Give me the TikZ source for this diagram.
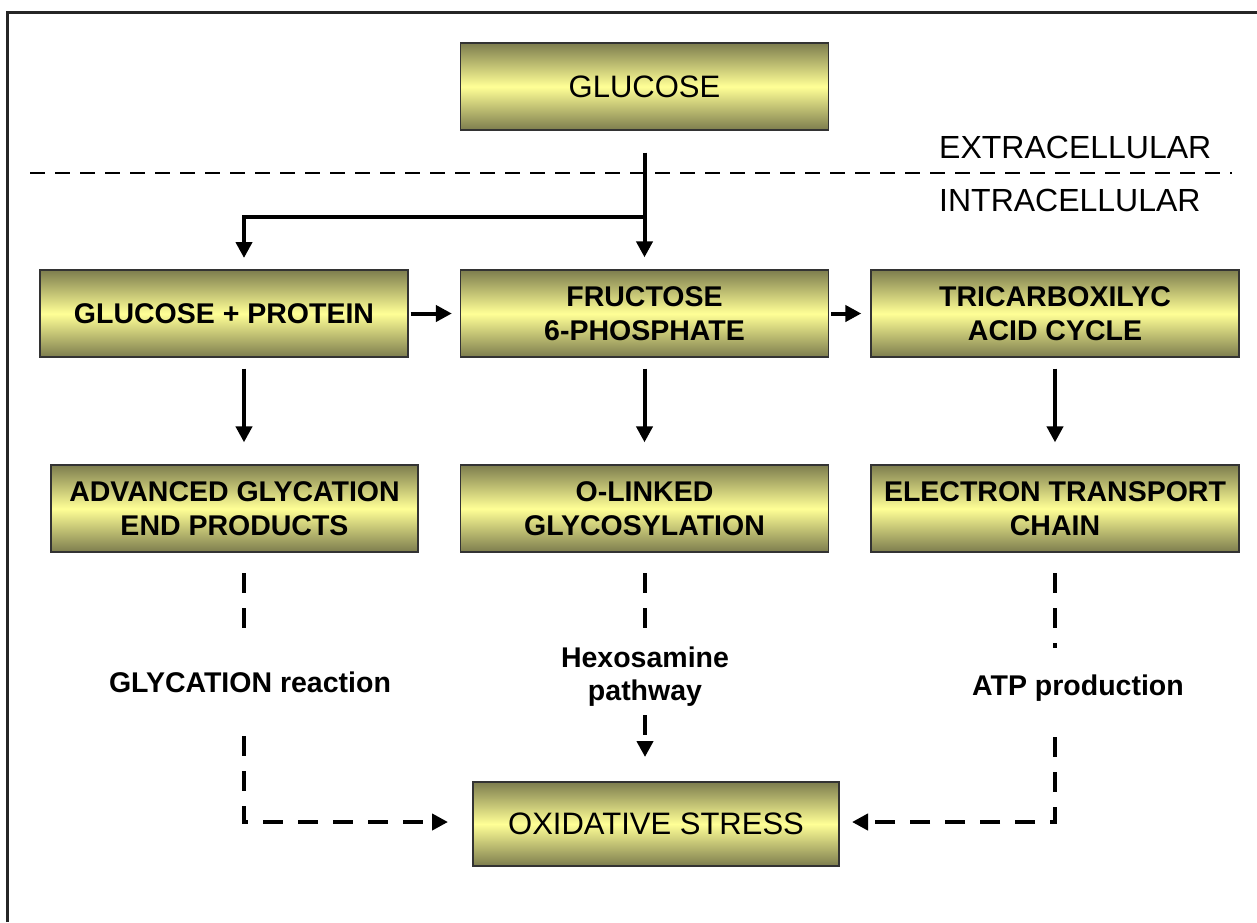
\documentclass[tikz,border=0pt]{standalone}
\usepackage{fontspec}
\setmainfont{Liberation Sans}
\usetikzlibrary{arrows.meta,calc}
\definecolor{boxdark}{RGB}{125,125,78}
\definecolor{boxlight}{RGB}{255,255,150}
\begin{document}
\begin{tikzpicture}[x=1pt,y=-1pt,
 box/.style={draw=black!80, line width=1.3pt, top color=boxdark, bottom color=boxdark, middle color=boxlight,
   minimum width=368pt, minimum height=87pt, inner sep=0pt, align=center,
   font=\fontsize{28.5}{34}\selectfont\bfseries},
 plainbox/.style={box, font=\fontsize{31}{34}\selectfont},
 arr/.style={line width=4pt, -{Triangle[length=16pt,width=16pt]}},
 dsh/.style={line width=4pt, dash pattern=on 20pt off 15pt},
 dsharr/.style={dsh, -{Triangle[length=16pt,width=16pt]}},
 lab/.style={font=\fontsize{28.5}{33}\selectfont\bfseries, align=center, inner sep=0pt},
 side/.style={font=\fontsize{32}{36}\selectfont, anchor=west, inner sep=0pt}]
\useasboundingbox (0,0) rectangle (1257,922);
\fill[white] (0,0) rectangle (1257,922);
% frame
\draw[line width=3pt, black!85] (7,922) -- (7,12) -- (1257,12);
% boxes
\node[plainbox] (glucose) at (644.5,86.5) {GLUCOSE};
\node[box] (gp) at (224,313.5) {GLUCOSE + PROTEIN};
\node[box] (fru) at (644.5,313.5) {FRUCTOSE\\6-PHOSPHATE};
\node[box] (tca) at (1055,313.5) {TRICARBOXILYC\\ACID CYCLE};
\node[box, minimum width=367pt] (age) at (234.5,508.5) {ADVANCED GLYCATION\\END PRODUCTS};
\node[box] (olink) at (644.5,508.5) {O-LINKED\\GLYCOSYLATION};
\node[box] (etc) at (1055,508.5) {ELECTRON TRANSPORT\\CHAIN};
\node[plainbox, minimum width=366pt, minimum height=84pt] (ox) at (656,824) {OXIDATIVE STRESS};
% side labels and separator
\node[side] (extra) at (939,147) {EXTRACELLULAR};
\node[side] (intra) at (939,200) {INTRACELLULAR};
\coordinate (sepL) at (30,173);
\coordinate (sepR) at (1232,173);
\draw[line width=2.6pt, dash pattern=on 15pt off 10pt] (sepL) -- (sepR);
% path labels
\node[lab] (glylab) at (250,682) {GLYCATION reaction};
\node[lab] (hexlab) at (645,677) {Hexosamine\\pathway};
\node[lab] (atplab) at (1078,688) {ATP production};
% solid arrows
\coordinate (br) at (645,217);
\coordinate (gpin) at (244,258);
\draw[arr] ([yshift=-22pt]glucose.south) -- ([yshift=12pt]fru.north);
\draw[arr] (br) -| (gpin);
\draw[arr] ([xshift=2pt]gp.east) -- ([xshift=-8pt]fru.west);
\draw[arr] ([xshift=2pt]fru.east) -- ([xshift=-9pt]tca.west);
\draw[arr] ([xshift=20pt,yshift=-11pt]gp.south) -- ([xshift=9.5pt,yshift=22pt]age.north);
\draw[arr] ([yshift=-11pt]fru.south) -- ([yshift=22pt]olink.north);
\draw[arr] ([yshift=-11pt]tca.south) -- ([yshift=22pt]etc.north);
% dashed connectors
\coordinate (l1) at (244,573);
\coordinate (l2) at (244,630);
\coordinate (l3) at (244,736);
\coordinate (l4) at (448,822);
\draw[dsh] (l1) -- (l2);
\draw[dsharr] (l3) |- (l4);
\coordinate (m1) at (645,573);
\coordinate (m2) at (645,630);
\coordinate (m3) at (645,715);
\coordinate (m4) at (645,757);
\draw[dsh] (m1) -- (m2);
\draw[dsharr] (m3) -- (m4);
\coordinate (r1) at (1055,573);
\coordinate (r2) at (1055,648);
\coordinate (r3) at (1055,737);
\coordinate (r4) at (852,822);
\draw[dsh] (r1) -- (r2);
\draw[dsharr] (r3) |- (r4);
\end{tikzpicture}
\end{document}
